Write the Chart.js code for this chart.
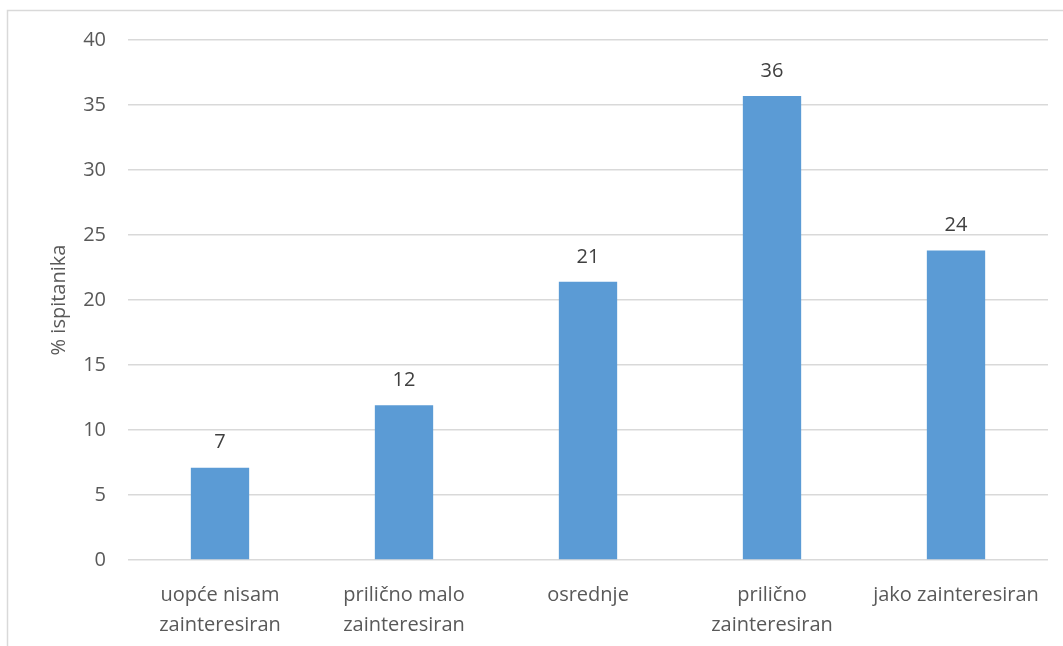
<!DOCTYPE html>
<html>
<head>
<meta charset="utf-8">
<script src="https://cdn.jsdelivr.net/npm/chart.js@4.4.0/dist/chart.umd.min.js"></script>
<style>
html,body{margin:0;padding:0;background:#fff;}
#wrap{width:1063px;height:646px;position:relative;}
</style>
</head>
<body>
<div id="wrap"><canvas id="c" width="1063" height="646"></canvas></div>
<script>
const categories = [["uopće nisam","zainteresiran"],["prilično malo","zainteresiran"],["osrednje"],["prilično","zainteresiran"],["jako zainteresiran"]];
const values = [7.1, 11.9, 21.4, 35.7, 23.8];
const yTicks = [0,5,10,15,20,25,30,35,40];
const yTitle = "% ispitanika";

const FONT = "'Open Sans', 'Noto Sans', sans-serif";

const framePlugin = {
  id: 'frame',
  beforeDraw(chart){
    const ctx = chart.ctx;
    ctx.save();
    ctx.fillStyle = '#fff';
    ctx.fillRect(0,0,chart.width,chart.height);
    ctx.strokeStyle = '#d9d9d9';
    ctx.lineWidth = 1.5;
    ctx.beginPath();
    ctx.moveTo(7.5, chart.height+5);
    ctx.lineTo(7.5, 10.5);
    ctx.lineTo(chart.width+5, 10.5);
    ctx.stroke();
    ctx.restore();
  }
};

const labelPlugin = {
  id: 'barLabels',
  afterDatasetsDraw(chart){
    const ctx = chart.ctx;
    const meta = chart.getDatasetMeta(0);
    ctx.save();
    ctx.fillStyle = '#404040';
    ctx.font = "20px " + FONT;
    ctx.textAlign = 'center';
    ctx.textBaseline = 'middle';
    meta.data.forEach((bar, i) => {
      ctx.fillText(String(Math.round(values[i])), bar.x, bar.y - 25);
    });
    ctx.restore();
  }
};

new Chart(document.getElementById('c'), {
  type: 'bar',
  data: {
    labels: categories,
    datasets: [{
      data: values,
      backgroundColor: '#5b9bd5',
      borderWidth: 0,
      barPercentage: 0.634,
      categoryPercentage: 0.5
    }]
  },
  options: {
    responsive: false,
    animation: false,
    devicePixelRatio: 1,
    layout: { padding: { top: 40, right: 15, left: 0, bottom: 0 } },
    plugins: { legend: { display: false }, tooltip: { enabled: false } },
    scales: {
      x: {
        grid: { display: false },
        border: { display: false },
        ticks: { color: '#595959', font: { family: FONT, size: 20, lineHeight: 1.5 }, padding: 12, maxRotation: 0, autoSkip: false },
        afterFit(scale){ scale.height = 86; }
      },
      y: {
        min: 0, max: 40,
        afterBuildTicks(scale){ scale.ticks = yTicks.map(v => ({value: v})); },
        grid: { color: '#d9d9d9', lineWidth: 1.5, drawTicks: false },
        border: { display: false },
        ticks: { color: '#595959', font: { family: FONT, size: 20 }, padding: 22 },
        title: { display: true, text: yTitle, color: '#595959', font: { family: FONT, size: 20 }, padding: { top: 47, bottom: 0 } },
        afterFit(scale){ scale.width = 128; }
      }
    }
  },
  plugins: [framePlugin, labelPlugin]
});
</script>
</body>
</html>
